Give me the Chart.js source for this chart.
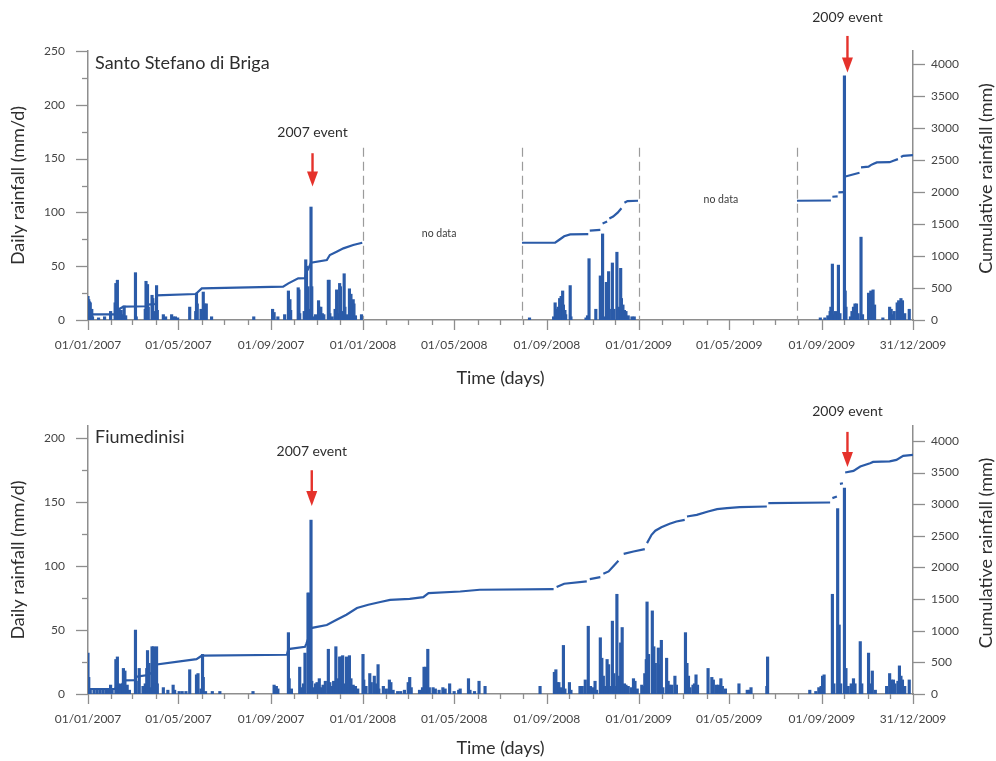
<!DOCTYPE html>
<html>
<head>
<meta charset="utf-8">
<script src="https://cdn.jsdelivr.net/npm/chart.js@4.4.1/dist/chart.umd.min.js"></script>
<style>
  html, body { margin: 0; padding: 0; background: #ffffff; }
  #wrap { position: relative; width: 996px; height: 761px; }
  #c1 { position: absolute; left: 0; top: 0; width: 996px; height: 395px; }
  #c2 { position: absolute; left: 0; top: 395px; width: 996px; height: 366px; }
</style>
</head>
<body>
<div id="wrap">
  <canvas id="c1" width="996" height="395"></canvas>
  <canvas id="c2" width="996" height="366"></canvas>
</div>
<script>
// ---------------- DATA (day = days since 01/01/2007) ----------------
// monthly tick positions (first day of each month) and labelled ticks
const monthStartDays = [0,31,59,90,120,151,181,212,243,273,304,334,
  365,396,425,456,486,517,547,578,609,639,670,700,
  731,762,790,821,851,882,912,943,974,1004,1035,1065,1095];
const xLabelDays  = [0,120,243,365,486,609,731,851,974,1095];
const xLabelTexts = ['01/01/2007','01/05/2007','01/09/2007','01/01/2008','01/05/2008',
                     '01/09/2008','01/01/2009','01/05/2009','01/09/2009','31/12/2009'];

// Santo Stefano di Briga – daily rainfall [day, mm/d]
const topDaily = [
  [0,22],[1,19],[2,17],[3,16],[4,8],[5,10],[6,3],[14,2],[22,3],[30,8],[36,16],[37,34],[39,37],[41,11],
  [44,9],[46,5],[48,13],[50,4],[63,44],[64,3],[76,10],[77,36],[79,33],[80,12],[85,23],[86,20],[88,8],
  [91,32],[92,9],[100,5],[103,3],[111,5],[113,3],[116,3],[119,2],[135,12],[143,8],[144,25],[145,15],
  [150,10],[153,26],[155,15],[157,15],[164,3],[220,3],[245,10],[247,7],[252,3],[261,5],[266,27],
  [268,19],[269,9],[279,30],[280,28],[281,6],[287,8],[289,56],[290,50],[292,31],[294,10],[296,105],
  [297,31],[300,3],[302,5],[306,18],[307,12],[309,12],[311,6],[313,5],[319,37],[320,37],[321,6],
  [324,3],[328,10],[330,28],[332,6],[334,34],[335,31],[337,8],[340,43],[341,12],[343,5],[347,29],
  [349,24],[350,8],[352,19],[353,15],[355,4],[363,5],
  [586,2],[618,3],[620,16],[621,10],[623,7],[624,12],[626,20],[628,22],[630,27],[631,14],[633,9],
  [634,5],[640,32],[641,3],[661,2],[663,4],[665,57],[674,10],[680,41],[681,6],[683,80],[685,3],
  [688,35],[689,8],[691,45],[692,10],[696,53],[698,10],[702,63],[704,12],[707,48],[708,20],[710,14],
  [712,9],[714,8],[717,4],[722,3],[725,3],
  [972,2],[978,2],[982,4],[985,8],[986,12],[988,52],[990,5],[992,8],[996,51],[998,6],[1004,227],
  [1005,27],[1006,12],[1012,3],[1014,8],[1016,12],[1018,15],[1020,15],[1022,6],[1026,77],[1028,5],
  [1036,25],[1038,10],[1039,27],[1042,28],[1044,14],[1055,2],[1064,12],[1066,10],[1068,5],[1070,8],
  [1074,16],[1076,18],[1079,20],[1081,18],[1084,6],[1090,10]
];
// Santo Stefano di Briga – cumulative rainfall [day, mm] (null = no data)
const topCumulative = [
  [0,40],[3,89],[36,89],[38,150],[47,208],[77,215],[79,240],[90,250],[91,386],[143,407],[151,495],
  [259,521],[266,573],[279,652],[288,655],[289,711],[290,761],[292,792],[296,897],[317,938],
  [321,1017],[330,1069],[339,1121],[352,1173],[364,1209],
  [470,null],
  [576,1209],[620,1209],[626,1260],[632,1310],[640,1340],[664,1345],[666,1400],[680,1412],
  [683,1510],[689,1540],[692,1590],[697,1620],[703,1680],[708,1750],[712,1835],[716,1862],[730,1866],
  [840,null],
  [941,1866],[986,1870],[988,1929],[995,1935],[996,1997],[1003,2000],[1004,2241],[1024,2304],
  [1026,2388],[1036,2400],[1039,2424],[1042,2440],[1047,2466],[1064,2470],[1069,2492],[1075,2518],
  [1079,2550],[1082,2570],[1095,2581]
];

// Fiumedinisi – daily rainfall [day, mm/d]
const botDaily = [
  [0,32],[1,13],[3,3],[8,3],[12,3],[16,3],[20,3],[24,3],[27,3],[30,7],[32,4],[37,27],[39,29],[41,8],
  [43,7],[47,20],[49,18],[52,7],[55,3],[63,50],[64,10],[68,20],[73,6],[76,8],[78,20],[79,34],[81,24],
  [84,5],[85,37],[87,37],[88,8],[91,37],[92,8],[100,5],[106,3],[113,7],[115,3],[121,2],[125,2],
  [130,2],[135,19],[144,15],[146,16],[150,4],[152,31],[153,13],[156,2],[165,2],[175,2],[219,2],
  [247,7],[250,6],[252,4],[266,48],[267,12],[270,4],[281,21],[283,5],[286,8],[288,32],[292,79],
  [293,79],[294,33],[296,136],[297,10],[300,5],[302,8],[304,9],[307,12],[309,5],[312,7],[315,10],
  [319,35],[321,9],[323,6],[326,10],[329,37],[331,12],[334,29],[336,29],[338,30],[340,8],[343,29],
  [345,5],[347,30],[349,12],[352,7],[355,6],[358,4],
  [365,31],[366,11],[369,6],[374,16],[376,9],[380,14],[382,8],[385,23],[386,4],[392,6],[396,4],
  [400,11],[402,9],[405,3],[411,2],[415,2],[420,3],[425,9],[427,13],[429,5],[440,3],[444,5],[446,21],
  [448,21],[451,35],[453,5],[458,5],[461,4],[466,3],[471,5],[474,4],[480,8],[486,2],[492,3],[494,4],
  [505,12],[507,3],[513,2],[519,10],[527,6],[600,6],[619,17],[621,19],[623,9],[625,9],[628,5],
  [631,38],[633,4],[639,9],[641,3],[653,6],[656,6],[660,11],[664,53],[667,6],[670,5],[673,10],
  [675,3],[680,44],[682,28],[684,14],[686,6],[689,27],[691,23],[693,6],[696,57],[698,16],[700,6],
  [702,78],[704,14],[706,10],[707,40],[709,52],[712,8],[714,7],[717,6],[721,5],[724,12],[726,10],
  [729,4],[735,7],[737,6],[739,16],[741,27],[742,72],[744,31],[749,65],[751,37],[753,24],[757,36],
  [759,23],[761,42],[763,5],[768,28],[770,10],[772,7],[775,7],[779,14],[781,7],[793,48],[795,24],
  [797,14],[799,5],[803,7],[805,8],[807,15],[809,7],[823,20],[828,13],[830,11],[834,7],[837,7],
  [840,12],[842,6],[846,4],[864,8],[875,3],[878,3],[880,5],[901,6],[902,29],[958,3],[966,2],[970,5],
  [973,6],[975,14],[977,15],[988,78],[990,8],[995,145],[997,54],[999,8],[1004,161],[1006,20],
  [1009,6],[1013,8],[1016,12],[1018,8],[1025,41],[1027,8],[1036,32],[1038,8],[1041,18],[1045,3],
  [1060,6],[1064,16],[1066,11],[1069,11],[1071,8],[1075,10],[1077,22],[1079,14],[1081,11],[1084,6],
  [1090,11]
];
// Fiumedinisi – cumulative rainfall [day, mm]
const botCumulative = [
  [0,79],[36,79],[38,131],[45,150],[49,215],[62,220],[64,270],[67,278],[80,300],[85,341],[89,463],
  [144,552],[151,605],[264,620],[266,710],[288,745],[290,800],[293,900],[296,1042],[317,1090],
  [330,1173],[343,1252],[357,1358],[372,1410],[388,1453],[401,1488],[427,1504],[445,1530],[452,1595],
  [494,1620],[520,1647],[618,1657],[622,1690],[632,1742],[662,1779],[666,1816],[680,1847],[684,1900],
  [691,1937],[697,2015],[704,2105],[708,2173],[711,2215],[724,2252],[739,2290],[742,2384],[748,2515],
  [753,2580],[761,2636],[772,2689],[781,2726],[792,2752],[795,2805],[808,2831],[823,2884],[835,2921],
  [848,2936],[865,2952],[901,2963],[903,3016],[985,3026],[988,3095],[994,3121],[998,3321],[1002,3330],
  [1005,3500],[1016,3526],[1025,3594],[1038,3647],[1042,3668],[1064,3675],[1073,3700],[1082,3763],
  [1095,3779]
];

// ---------------- STYLE ----------------
const FONT = 'Lato, "Open Sans", sans-serif';
const BLUE = '#2b5ba8';
const AXIS = '#8e8e8e';
const TXT = '#2e2e2e';
const TICKTXT = '#444444';
const RED = '#e5322b';

const tickMarks = {
  id: 'tickMarks',
  afterDraw(chart, args, o) {
    const { ctx, scales } = chart;
    const xs = scales.x, yl = scales.y, yr = scales.y2;
    ctx.save();
    ctx.strokeStyle = AXIS;
    ctx.lineWidth = 1.3;
    const line = (x1, y1, x2, y2) => { ctx.beginPath(); ctx.moveTo(x1, y1); ctx.lineTo(x2, y2); ctx.stroke(); };
    xs.ticks.forEach(t => {
      const p = Math.round(xs.getPixelForValue(t.value)) + 0.5;
      const len = xLabelDays.includes(t.value) ? 10 : 5;
      line(p, xs.top, p, xs.top + len);
    });
    yl.ticks.forEach(t => {
      const p = Math.round(yl.getPixelForValue(t.value)) + 0.5;
      const len = t.value % o.leftMajor === 0 ? 12 : 6;
      line(yl.right - len, p, yl.right, p);
    });
    yr.ticks.forEach(t => {
      const p = Math.round(yr.getPixelForValue(t.value)) + 0.5;
      const len = t.value % o.rightMajor === 0 ? 12 : 6;
      line(yr.left, p, yr.left + len, p);
    });
    ctx.restore();
  }
};

const annotations = {
  id: 'annotations',
  afterDraw(chart, args, o) {
    const { ctx, chartArea: ca } = chart;
    const xs = chart.scales.x, ys = chart.scales.y;
    ctx.save();
    // dashed "no data" limits
    ctx.setLineDash([9, 5]);
    ctx.strokeStyle = '#9b9b9b';
    ctx.lineWidth = 1.2;
    (o.dashDays || []).forEach(d => {
      const px = Math.round(xs.getPixelForValue(d)) + 0.5;
      ctx.beginPath();
      ctx.moveTo(px, ys.getPixelForValue(o.dashTop));
      ctx.lineTo(px, ys.getPixelForValue(0));
      ctx.stroke();
    });
    ctx.setLineDash([]);
    // panel name
    ctx.fillStyle = TXT;
    ctx.textBaseline = 'middle';
    ctx.textAlign = 'left';
    ctx.font = '18px ' + FONT;
    ctx.fillText(o.name, ca.left + 7, ca.top + o.nameDy);
    // events
    o.events.forEach(e => {
      const px = xs.getPixelForValue(e.day);
      ctx.fillStyle = TXT;
      ctx.textAlign = 'center';
      ctx.font = '14px ' + FONT;
      ctx.fillText(e.text, px, ys.getPixelForValue(e.textVal));
      const yTop = ys.getPixelForValue(e.arrowTop);
      const yTip = ys.getPixelForValue(e.arrowTip);
      ctx.strokeStyle = RED;
      ctx.fillStyle = RED;
      ctx.lineWidth = 2.4;
      ctx.beginPath();
      ctx.moveTo(px, yTop);
      ctx.lineTo(px, yTip - 12);
      ctx.stroke();
      ctx.beginPath();
      ctx.moveTo(px - 5.5, yTip - 15);
      ctx.lineTo(px + 5.5, yTip - 15);
      ctx.lineTo(px, yTip);
      ctx.closePath();
      ctx.fill();
    });
    // "no data"
    ctx.fillStyle = '#3a3a3a';
    ctx.textAlign = 'center';
    ctx.font = '10.5px ' + FONT;
    (o.noData || []).forEach(n => ctx.fillText('no data', xs.getPixelForValue(n.day), ys.getPixelForValue(n.val)));
    // right axis title (reads bottom-to-top)
    ctx.save();
    ctx.translate(chart.width - 10, (ca.top + ca.bottom) / 2 - 7);
    ctx.rotate(-Math.PI / 2);
    ctx.fillStyle = TXT;
    ctx.textAlign = 'center';
    ctx.font = '18px ' + FONT;
    ctx.fillText('Cumulative rainfall (mm)', 0, 0);
    ctx.restore();
    ctx.restore();
  }
};

function range(step, max) { const a = []; for (let v = 0; v <= max; v += step) a.push(v); return a; }

function makePanel(id, daily, cumulative, cfg) {
  const ctx = document.getElementById(id);
  return new Chart(ctx, {
    type: 'bar',
    data: {
      datasets: [
        {
          type: 'line',
          data: cumulative.map(([d, v]) => ({ x: d, y: v })),
          yAxisID: 'y2',
          borderColor: BLUE,
          borderWidth: 2.2,
          pointRadius: 0,
          tension: 0,
          spanGaps: false,
          segment: {
            // steep jumps after the first season were plotted as separate steps (small gaps)
            borderColor: c => (c.p0.parsed.x >= cfg.gapFrom &&
                               c.p1.parsed.y - c.p0.parsed.y >= 30 &&
                               c.p1.parsed.x - c.p0.parsed.x <= 4) ? 'rgba(0,0,0,0)' : BLUE
          },
          order: 2
        },
        {
          type: 'bar',
          data: daily.map(([d, v]) => ({ x: d, y: v })),
          yAxisID: 'y',
          backgroundColor: BLUE,
          borderWidth: 0,
          barThickness: 2.5,
          grouped: false,
          order: 1
        }
      ]
    },
    options: {
      responsive: false,
      animation: false,
      events: [],
      layout: { padding: { top: cfg.padTop, left: 0, right: 0, bottom: 0 } },
      plugins: {
        legend: { display: false },
        tooltip: { enabled: false },
        tickMarks: { leftMajor: cfg.leftMajor, rightMajor: 500 },
        annotations: cfg.annot
      },
      scales: {
        x: {
          type: 'linear',
          offset: false,
          min: 0, max: 1095,
          afterBuildTicks: s => { s.ticks = monthStartDays.map(v => ({ value: v })); },
          afterFit: s => { s.height = cfg.xHeight; },
          grid: { display: false, drawTicks: false, offset: false },
          border: { display: true, color: AXIS, width: 1.5 },
          ticks: {
            autoSkip: false, maxRotation: 0, padding: 18, color: TICKTXT,
            font: { family: FONT, size: 12 },
            callback: v => { const i = xLabelDays.indexOf(v); return i >= 0 ? xLabelTexts[i] : ''; }
          },
          title: { display: true, text: 'Time (days)', color: TXT, font: { family: FONT, size: 18 },
                   padding: { top: 0, bottom: cfg.xTitlePad } }
        },
        y: {
          position: 'left',
          min: 0, max: cfg.leftMax,
          afterBuildTicks: s => { s.ticks = range(25, cfg.leftTop).map(v => ({ value: v })); },
          afterFit: s => { s.width = 88; },
          grid: { display: false, drawTicks: false },
          border: { display: true, color: AXIS, width: 1.5 },
          ticks: {
            padding: 23, color: TICKTXT, font: { family: FONT, size: 12 },
            callback: v => (v % cfg.leftMajor === 0 ? String(v) : '')
          },
          title: { display: true, text: 'Daily rainfall (mm/d)', color: TXT, font: { family: FONT, size: 18 },
                   padding: { top: 7, bottom: 0 } }
        },
        y2: {
          position: 'right',
          min: 0, max: cfg.rightMax,
          afterBuildTicks: s => { s.ticks = range(250, 4000).map(v => ({ value: v })); },
          afterFit: s => { s.width = 83; },
          grid: { display: false, drawTicks: false },
          border: { display: true, color: AXIS, width: 1.5 },
          ticks: {
            padding: 18, color: TICKTXT, font: { family: FONT, size: 12 },
            callback: v => (v % 500 === 0 ? String(v) : '')
          }
        }
      }
    },
    plugins: [tickMarks, annotations]
  });
}

makePanel('c1', topDaily, topCumulative, {
  padTop: 51, xHeight: 75, xTitlePad: 6, leftMax: 250, leftTop: 250, leftMajor: 50, rightMax: 4210,
  gapFrom: 600,
  annot: {
    name: 'Santo Stefano di Briga', nameDy: 12,
    dashDays: [365, 576, 731, 941], dashTop: 160,
    events: [
      { text: '2007 event', day: 298, textVal: 174, arrowTop: 155, arrowTip: 124 },
      { text: '2009 event', day: 1008, textVal: 281, arrowTop: 264, arrowTip: 230 }
    ],
    noData: [{ day: 466, val: 80 }, { day: 840, val: 112 }]
  }
});

makePanel('c2', botDaily, botCumulative, {
  padTop: 31, xHeight: 67, xTitlePad: 2, leftMax: 209.6, leftTop: 200, leftMajor: 50, rightMax: 4235,
  gapFrom: 600,
  annot: {
    name: 'Fiumedinisi', nameDy: 11,
    dashDays: [], dashTop: 0,
    events: [
      { text: '2007 event', day: 297, textVal: 190, arrowTop: 175, arrowTip: 147 },
      { text: '2009 event', day: 1008, textVal: 220.7, arrowTop: 205, arrowTip: 177.6 }
    ],
    noData: []
  }
});
</script>
</body>
</html>
